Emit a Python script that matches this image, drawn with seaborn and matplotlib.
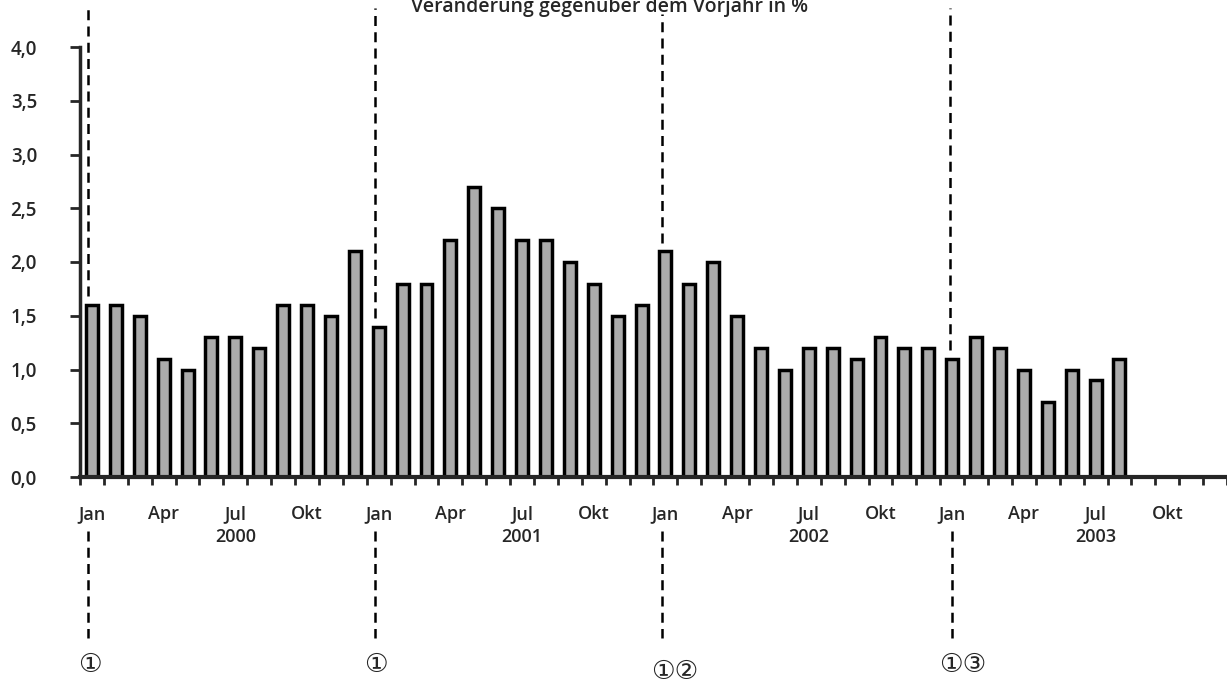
import numpy as np
import pandas as pd
import seaborn as sns
import matplotlib.pyplot as plt

# Monthly change vs. previous year in %, Jan 2000 - Aug 2003
values_2000 = [1.6, 1.6, 1.5, 1.1, 1.0, 1.3, 1.3, 1.2, 1.6, 1.6, 1.5, 2.1]
values_2001 = [1.4, 1.8, 1.8, 2.2, 2.7, 2.5, 2.2, 2.2, 2.0, 1.8, 1.5, 1.6]
values_2002 = [2.1, 1.8, 2.0, 1.5, 1.2, 1.0, 1.2, 1.2, 1.1, 1.3, 1.2, 1.2]
values_2003 = [1.1, 1.3, 1.2, 1.0, 0.7, 1.0, 0.9, 1.1]

years = ["2000", "2001", "2002", "2003"]
month_names = ["Jan", "Apr", "Jul", "Okt"]
# markers below the axis, placed at January of each year
notes = ["\u2460", "\u2460", "\u2460\u2461", "\u2460\u2462"]

values = values_2000 + values_2001 + values_2002 + values_2003
df = pd.DataFrame({"month": [str(i) for i in range(len(values))], "value": values})

sns.set_style("white")
plt.rcParams["font.family"] = ["Open Sans", "DejaVu Sans"]
plt.rcParams["font.weight"] = "semibold"

fig = plt.figure(figsize=(12.27, 6.85), dpi=100)
ax = fig.add_axes([80 / 1227, 1 - 477 / 685, 1 - 80 / 1227, 430 / 685])

sns.barplot(data=df, x="month", y="value", ax=ax, width=0.5,
            color="#ababab", edgecolor="black", linewidth=2.5, saturation=1)

n_slots = 4 * 12
ax.set_xlim(-0.5, n_slots - 0.9)
ax.set_ylim(0, 4.0)

for s in ["top", "right"]:
    ax.spines[s].set_visible(False)
ax.spines["left"].set_linewidth(2.5)
ax.spines["bottom"].set_linewidth(3)
ax.spines["left"].set_bounds(0, 4.0)

yt = np.arange(0, 4.01, 0.5)
ax.set_yticks(yt)
ax.set_yticklabels([f"{v:.1f}".replace(".", ",") for v in yt], fontsize=13.5)
ax.tick_params(axis="y", direction="out", length=7, width=2, pad=24, left=True)

major = [i for i in range(n_slots) if i % 3 == 0]
ax.set_xticks(major)
ax.set_xticklabels([month_names[(i % 12) // 3] for i in major], fontsize=13)
ax.set_xticks(np.arange(-0.5, n_slots, 1), minor=True)
ax.tick_params(axis="x", which="major", length=0, pad=20)
ax.tick_params(axis="x", which="minor", direction="out", length=6, width=2, bottom=True)
ax.set_xlabel("")
ax.set_ylabel("")

# year labels centred under July
for k, yr in enumerate(years):
    ax.text(k * 12 + 6, -0.56, yr, ha="center", va="center", fontsize=13,
            transform=ax.transData, clip_on=False)

# dashed markers at each January
tops = [values[k * 12] for k in range(4)]
offs = [-0.15, -0.15, -0.15, -0.1]
for k in range(4):
    xk = k * 12 + offs[k]
    ax.plot([xk, xk], [tops[k] + 0.08, 4.36 - 0.05 * (k == 2)], color="black",
            ls=(0, (4, 2.5)), lw=1.8, clip_on=False)
    xb = xk + 0.1 * (k == 3)
    ax.plot([xb, xb], [-0.5, -1.5], color="black",
            ls=(0, (4, 2.5)), lw=1.8, clip_on=False)
    ax.text(xk + 0.05 + (0.5 if len(notes[k]) > 1 else 0), -1.75 - 0.06 * (k == 2),
            notes[k], ha="center", va="center", fontsize=19, clip_on=False,
            family=["DejaVu Sans", "Noto Sans CJK SC"], weight="normal")

fig.text(0.497, 1 - 7 / 685, "Veränderung gegenüber dem Vorjahr in %",
         ha="center", va="center", fontsize=14)

fig.savefig("out.png", dpi=100)
